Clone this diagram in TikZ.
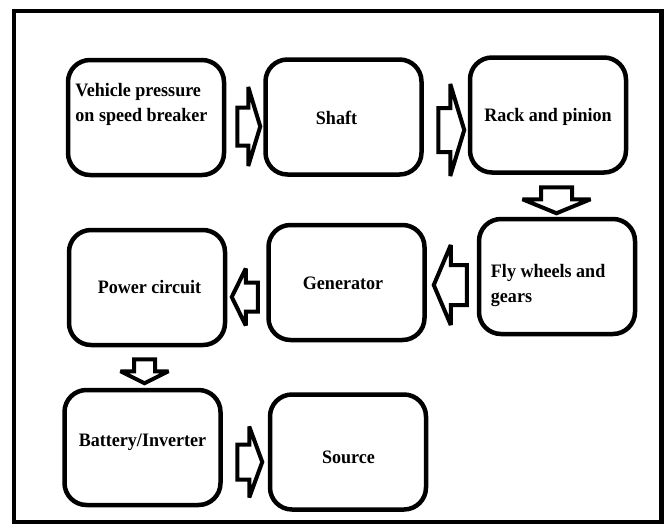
\documentclass[tikz,border=0pt]{standalone}
\usepackage{fontspec}
\setmainfont{Liberation Serif}[FakeStretch=0.95]
\usetikzlibrary{calc}
% #1 tail point, #2 rotation, #3 length, #4 head length, #5 body half width, #6 head half width
\newcommand\blockarr[6]{%
  \begin{scope}[shift={(#1)},rotate=#2]
    \draw[arrowline] (0,-#5) -- ({#3-#4},-#5) -- ({#3-#4},-#6) -- (#3,0)
      -- ({#3-#4},#6) -- ({#3-#4},#5) -- (0,#5) -- cycle;
  \end{scope}}
\begin{document}
\begin{tikzpicture}[x=1pt,y=-1pt,
  box/.style={draw,line width=4.5pt,rounded corners=22pt,minimum width=156pt,minimum height=115pt,inner sep=0pt},
  lbl/.style={font=\fontsize{19}{25}\selectfont\bfseries,inner sep=0pt,align=left},
  arrowline/.style={draw,line width=4pt,line join=miter,miter limit=2.5,fill=white}]
\useasboundingbox (0,0) rectangle (668,525);
\draw[line width=4.5pt] (14,11) rectangle (661.5,522);
% boxes
\node[box] (b1) at (146,117.5) {};
\node[box] (b2) at (343.5,117) {};
\node[box] (b3) at (548,115) {};
\node[box] (fly) at (557,276.5) {};
\node[box] (gen) at (346.5,282.5) {};
\node[box] (pow) at (147,287.5) {};
\node[box] (bat) at (142.5,447.5) {};
\node[box] (src) at (348,452) {};
% texts
\node[lbl,anchor=west] (t1) at ($(b1.west)+(9.5,-13)$) {Vehicle pressure\\on speed breaker};
\node[lbl] (t2) at ($(b2.center)+(-7,1)$) {Shaft};
\node[lbl] (t3) at ($(b3.center)+(0,2)$) {Rack and pinion};
\node[lbl,anchor=west] (t4) at ($(fly.west)+(14,9)$) {Fly wheels and\\gears};
\node[lbl] (t5) at ($(gen.center)+(-3.5,0.5)$) {Generator};
\node[lbl] (t6) at ($(pow.center)+(2.5,0)$) {Power circuit};
\node[lbl] (t7) at ($(bat.center)+(0,-5.5)$) {Battery/Inverter};
\node[lbl] (t8) at ($(src.center)+(0.5,5)$) {Source};
% block arrows
\blockarr{$(b1.east)+(11,9)$}{0}{23}{12}{19}{39.5}
\blockarr{$(b2.east)+(14.5,13)$}{0}{26}{14}{22}{46}
\blockarr{$(b3.south)+(8.5,12.5)$}{-90}{26}{14}{15.5}{34}
\blockarr{$(fly.west)+(-10,8.5)$}{180}{33}{17}{20}{40}
\blockarr{$(gen.west)+(-8.5,14.5)$}{180}{26}{14}{14.5}{28.5}
\blockarr{$(pow.south)+(-2.5,12)$}{-90}{24}{12}{10.5}{24}
\blockarr{$(bat.east)+(14.5,14.5)$}{0}{25}{13}{17.5}{35.5}
\end{tikzpicture}
\end{document}
